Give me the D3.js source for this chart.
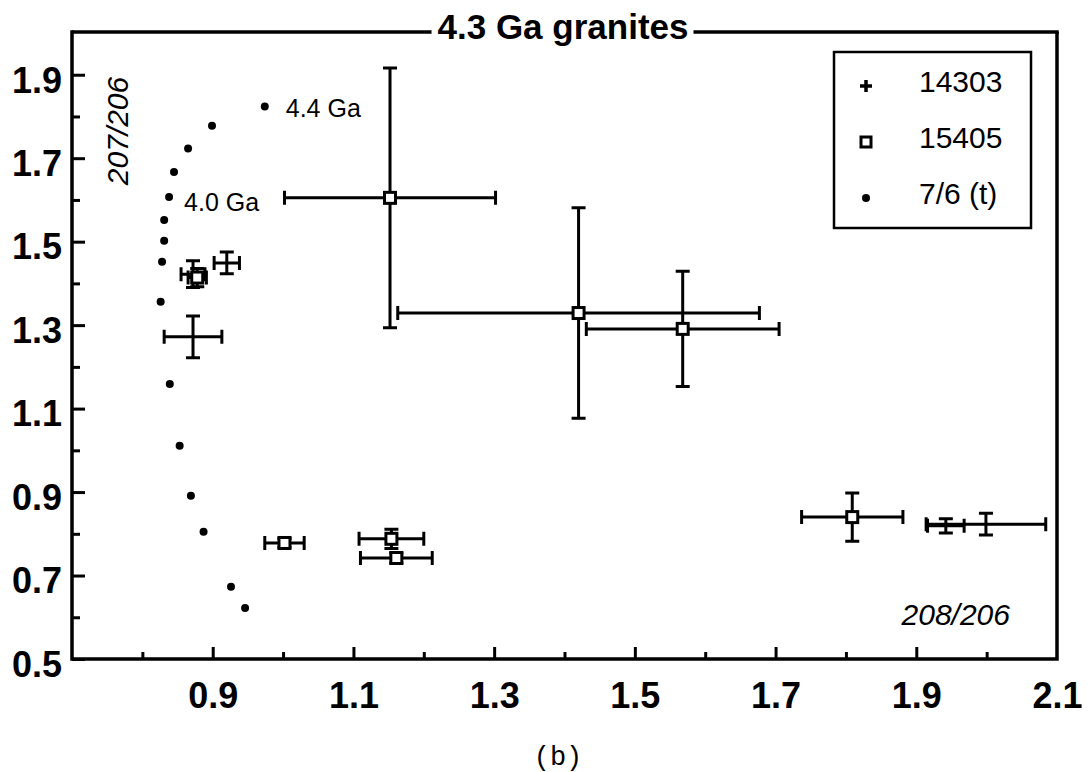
<!DOCTYPE html>
<html>
<head>
<meta charset="utf-8">
<script src="https://cdn.jsdelivr.net/npm/d3@7"></script>
<style>
  body { margin: 0; background: #fff; }
  svg { display: block; font-family: "Liberation Sans", Arial, sans-serif; }
</style>
</head>
<body>
<div id="chart"></div>
<script>
// values: [x, y, xerr, yerr]
const s14303 = [
  [0.872, 1.272, 0.041, 0.050],
  [0.872, 1.422, 0.017, 0.032],
  [0.920, 1.449, 0.018, 0.026],
  [1.942, 0.819, 0.026, 0.017],
  [1.999, 0.823, 0.085, 0.026]
];
const s15405 = [
  [0.878, 1.414, 0.013, 0.022],
  [1.152, 1.605, 0.150, 0.311],
  [1.420, 1.329, 0.257, 0.252],
  [1.568, 1.291, 0.137, 0.138],
  [1.002, 0.778, 0.028, 0.011],
  [1.154, 0.788, 0.046, 0.023],
  [1.161, 0.742, 0.051, 0.012],
  [1.809, 0.840, 0.072, 0.058]
];
// 7/6 (t) model curve
const modelX = [0.974, 0.899, 0.865, 0.845, 0.838, 0.831, 0.831, 0.828, 0.826, 0.839, 0.853, 0.869, 0.887, 0.926, 0.946];
const modelY = [1.824, 1.778, 1.723, 1.667, 1.607, 1.552, 1.502, 1.452, 1.356, 1.159, 1.011, 0.891, 0.805, 0.673, 0.622];
const modelLabels = [[0, "4.4 Ga"], [4, "4.0 Ga"]];

const xMajor = [0.9, 1.1, 1.3, 1.5, 1.7, 1.9];
const xMinor = [0.8, 1.0, 1.2, 1.4, 1.6, 1.8, 2.0];
const xLabels = [0.9, 1.1, 1.3, 1.5, 1.7, 1.9, 2.1];
const yMajor = [0.5, 0.7, 0.9, 1.1, 1.3, 1.5, 1.7, 1.9];
const yMinor = [0.6, 0.8, 1.0, 1.2, 1.4, 1.6, 1.8];
const legendItems = ["14303", "15405", "7/6 (t)"];

const width = 1088, height = 772;
const mLeft = 72, mRight = 1057, mTop = 32, mBottom = 659;

const svg = d3.select("#chart").append("svg")
    .attr("width", width).attr("height", height);

const x = d3.scaleLinear().domain([0.7, 2.1]).range([mLeft, mRight]);
const y = d3.scaleLinear().domain([0.5, 2.0]).range([mBottom, mTop + 1]);

// axes: ticks point inside the frame
function styleAxis(g) {
  g.select(".domain").remove();
  g.selectAll("line").attr("stroke", "#000").attr("stroke-width", 3);
  g.selectAll("text").attr("fill", "#000");
}

svg.append("g")
    .attr("transform", `translate(${mLeft},0)`)
    .call(d3.axisLeft(y).tickValues(yMajor).tickSize(-13).tickPadding(10).tickFormat(d3.format(".1f")))
    .attr("font-size", 36).attr("font-weight", "bold").attr("font-family", null)
    .call(styleAxis)
    .selectAll("text").attr("dy", "0.48em");

svg.append("g")
    .attr("transform", `translate(${mLeft},0)`)
    .call(d3.axisLeft(y).tickValues(yMinor).tickSize(-8).tickFormat(""))
    .call(styleAxis);

svg.append("g")
    .attr("transform", `translate(0,${mBottom})`)
    .call(d3.axisBottom(x).tickValues(xMajor).tickSize(-12).tickFormat(""))
    .call(styleAxis);

svg.append("g")
    .attr("transform", `translate(0,${mBottom})`)
    .call(d3.axisBottom(x).tickValues(xMinor).tickSize(-7).tickFormat(""))
    .call(styleAxis);

svg.append("g")
    .attr("transform", `translate(0,${mBottom})`)
    .call(d3.axisBottom(x).tickValues(xLabels).tickSize(0).tickPadding(23).tickFormat(d3.format(".1f")))
    .attr("font-size", 36).attr("font-weight", "bold").attr("font-family", null)
    .call(styleAxis);

// frame
const frame = svg.append("g").attr("stroke", "#000").attr("stroke-width", 3.5).attr("fill", "none");
frame.append("path").attr("d", `M${mLeft},${mTop - 1.75}V${mBottom}H${mRight}V${mTop}`);

const title = svg.append("text")
    .attr("x", 563).attr("y", 39)
    .attr("text-anchor", "middle")
    .attr("font-size", 35).attr("font-weight", "bold")
    .text("4.3 Ga granites");
const tb = title.node().getBBox();
frame.append("line").attr("x1", mLeft).attr("x2", tb.x - 6).attr("y1", mTop).attr("y2", mTop);
frame.append("line").attr("x1", tb.x + tb.width + 5).attr("x2", mRight + 1.75).attr("y1", mTop).attr("y2", mTop);

// axis names
svg.append("text")
    .attr("transform", "translate(128,131) rotate(-90)")
    .attr("text-anchor", "middle")
    .attr("font-size", 30).attr("font-style", "italic")
    .text("207/206");
svg.append("text")
    .attr("x", 1010).attr("y", 625)
    .attr("text-anchor", "end")
    .attr("font-size", 30).attr("font-style", "italic")
    .text("208/206");

// model dots
const model = modelX.map((d, i) => [d, modelY[i]]);
svg.append("g").selectAll("circle").data(model).join("circle")
    .attr("cx", d => x(d[0])).attr("cy", d => y(d[1])).attr("r", 4).attr("fill", "#000");
svg.append("g").selectAll("text").data(modelLabels).join("text")
    .attr("x", d => x(model[d[0]][0]) + (d[0] === 0 ? 21 : 15))
    .attr("y", d => y(model[d[0]][1]) + (d[0] === 0 ? 11 : 14))
    .attr("font-size", 25)
    .text(d => d[1]);

// error bars
const cap = 7;
function errorBars(g, data) {
  g.selectAll("path").data(data).join("path")
      .attr("fill", "none").attr("stroke", "#000").attr("stroke-width", 3)
      .attr("d", d => {
        const cx = x(d[0]), cy = y(d[1]);
        const x0 = x(d[0] - d[2]), x1 = x(d[0] + d[2]);
        const y0 = y(d[1] - d[3]), y1 = y(d[1] + d[3]);
        return `M${x0},${cy}H${x1}M${x0},${cy - cap}V${cy + cap}M${x1},${cy - cap}V${cy + cap}` +
               `M${cx},${y0}V${y1}M${cx - cap},${y0}H${cx + cap}M${cx - cap},${y1}H${cx + cap}`;
      });
}
errorBars(svg.append("g"), s14303);
errorBars(svg.append("g"), s15405);

svg.append("g").selectAll("rect").data(s15405).join("rect")
    .attr("x", d => x(d[0]) - 5.5).attr("y", d => y(d[1]) - 5.5)
    .attr("width", 11).attr("height", 11)
    .attr("fill", "#fff").attr("stroke", "#000").attr("stroke-width", 3);

// legend
const lg = svg.append("g");
lg.append("rect").attr("x", 834).attr("y", 52).attr("width", 197).attr("height", 176)
    .attr("fill", "#fff").attr("stroke", "#000").attr("stroke-width", 2.5);
const row = lg.selectAll("g").data(legendItems).join("g")
    .attr("transform", (d, i) => `translate(866,${86 + i * 56})`);
row.append("text").attr("x", 53).attr("y", 6).attr("font-size", 30).text(d => d);
row.filter((d, i) => i === 0).append("path")
    .attr("d", "M-6,0H6M0,-6V6").attr("stroke", "#000").attr("stroke-width", 3.5);
row.filter((d, i) => i === 1).append("rect")
    .attr("x", -5).attr("y", -5).attr("width", 10).attr("height", 10)
    .attr("fill", "#fff").attr("stroke", "#000").attr("stroke-width", 3);
row.filter((d, i) => i === 2).append("circle").attr("r", 4).attr("fill", "#000");

// caption
svg.append("text")
    .attr("x", 558).attr("y", 765)
    .attr("text-anchor", "middle")
    .attr("font-family", "'Liberation Mono', 'DejaVu Sans Mono', monospace")
    .attr("font-size", 27)
    .text("(b)");
</script>
</body>
</html>
